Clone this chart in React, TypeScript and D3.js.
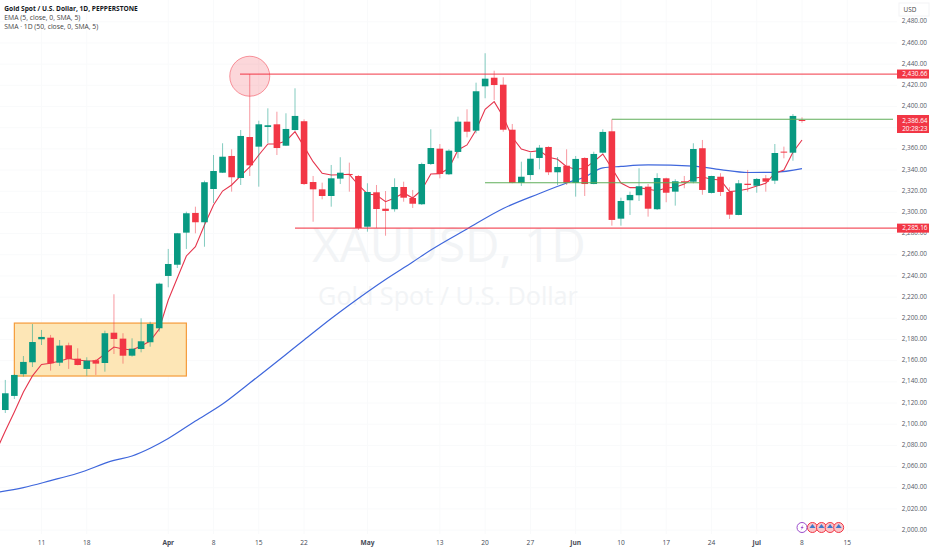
import React from "react";
import * as d3 from "d3";

const opens = [2113.4,2126.7,2147.2,2158.5,2180.2,2181.7,2158.1,2174.5,2161.9,2152.2,2160.4,2157.8,2186.4,2180.8,2164.7,2171.0,2177.4,2190.6,2240.0,2250.6,2280.9,2299.5,2290.7,2322.1,2337.5,2353.3,2332.5,2371.2,2362.1,2380.7,2383.2,2363.0,2377.8,2386.1,2328.7,2321.8,2315.5,2331.9,2336.3,2334.4,2286.5,2319.0,2303.5,2303.0,2324.0,2313.6,2307.7,2345.7,2360.2,2336.0,2357.1,2385.7,2377.2,2419.1,2427.2,2420.6,2378.1,2327.8,2335.3,2351.4,2361.8,2337.9,2344.1,2327.8,2351.4,2326.8,2356.4,2376.6,2294.1,2311.5,2316.2,2324.3,2303.0,2332.2,2319.6,2329.4,2329.0,2360.6,2318.4,2333.7,2319.3,2297.6,2327.1,2325.2,2332.2,2330.0,2357.4,2356.4,2387.3];
const highs = [2141.8,2147.0,2164.4,2194.6,2189.0,2184.3,2179.5,2177.0,2171.7,2163.2,2161.3,2188.3,2222.7,2185.9,2181.1,2200.0,2196.8,2233.6,2265.5,2280.6,2300.7,2305.4,2330.0,2354.2,2365.3,2359.6,2377.8,2430.7,2386.6,2398.3,2395.1,2393.6,2417.2,2387.9,2334.4,2328.1,2344.8,2352.1,2347.0,2335.3,2327.5,2325.9,2320.2,2332.2,2329.0,2321.2,2347.0,2378.5,2364.6,2359.6,2390.4,2397.4,2422.5,2450.3,2433.8,2427.6,2383.5,2347.9,2356.4,2363.7,2362.5,2352.3,2359.6,2353.3,2352.1,2357.3,2378.5,2387.9,2313.9,2319.6,2341.7,2326.8,2337.0,2332.8,2331.3,2334.4,2365.3,2368.4,2334.6,2337.0,2323.7,2330.6,2340.1,2332.5,2335.3,2364.6,2362.1,2392.9,2389.8];
const lows = [2110.6,2123.8,2144.9,2154.0,2174.8,2150.6,2155.0,2152.2,2155.6,2145.8,2146.5,2149.6,2166.3,2157.2,2163.8,2167.9,2173.2,2187.4,2229.3,2247.5,2265.5,2280.3,2267.6,2308.9,2337.2,2319.6,2325.9,2334.4,2324.3,2365.6,2354.2,2362.7,2377.2,2325.9,2291.2,2312.4,2305.4,2326.8,2319.6,2283.4,2281.8,2285.3,2278.0,2300.7,2310.1,2304.2,2307.0,2344.8,2332.2,2335.3,2351.1,2370.9,2374.7,2407.8,2406.2,2376.2,2327.5,2325.0,2330.6,2340.7,2335.3,2325.9,2325.9,2314.9,2315.5,2326.6,2355.8,2287.5,2287.5,2297.6,2310.8,2296.0,2302.3,2309.6,2306.4,2322.8,2327.5,2316.7,2317.9,2315.5,2293.8,2297.3,2319.6,2318.6,2319.6,2326.8,2351.1,2348.8,2384.7];
const closes = [2129.2,2146.5,2158.8,2177.6,2182.4,2157.5,2174.2,2161.6,2155.9,2160.0,2157.2,2185.9,2180.5,2164.7,2171.3,2178.3,2194.6,2232.7,2251.3,2280.3,2299.2,2290.7,2328.5,2339.1,2352.6,2333.2,2372.2,2344.5,2383.2,2382.3,2360.8,2378.8,2391.1,2326.8,2321.8,2315.5,2332.2,2337.5,2335.3,2285.3,2319.3,2303.2,2301.4,2324.0,2313.9,2308.2,2345.7,2360.8,2336.3,2358.3,2385.7,2376.2,2414.4,2426.3,2420.3,2378.1,2327.8,2333.7,2350.7,2361.1,2337.9,2342.9,2327.8,2350.5,2326.8,2355.2,2376.0,2292.9,2310.8,2316.5,2324.7,2303.5,2332.5,2318.6,2329.4,2328.1,2359.9,2321.2,2334.4,2319.3,2297.9,2327.5,2325.9,2331.6,2329.0,2356.1,2356.8,2391.1,2386.3];

const emaStart = -1;
const emaValues = [2074.7,2093.6,2111.6,2130.4,2145.6,2156.4,2157.5,2159.7,2162.1,2160.7,2159.7,2159.7,2166.3,2172.9,2171.0,2170.1,2173.9,2178.6,2189.9,2217.3,2238.1,2258.9,2267.6,2288.1,2307.0,2320.2,2325.9,2334.4,2342.9,2354.2,2364.6,2364.6,2367.5,2376.2,2362.1,2347.9,2337.0,2335.3,2335.6,2336.0,2325.9,2317.4,2316.5,2310.1,2313.6,2318.4,2313.6,2321.2,2336.3,2336.6,2341.7,2359.0,2363.7,2377.8,2397.4,2404.6,2390.4,2370.9,2359.9,2357.3,2358.3,2352.1,2350.2,2343.2,2340.7,2341.7,2347.9,2355.2,2341.7,2327.8,2323.4,2323.4,2321.8,2320.5,2323.1,2323.7,2326.8,2332.2,2333.5,2331.3,2330.6,2319.6,2320.5,2322.1,2325.0,2327.5,2337.0,2340.1,2356.8,2368.4];

const smaIndex = [-1,2,5,8,12,14,16,18,21,24,27,33,36,38,42,45,47,51,55,59,62,64,66,68,71,76,79,82,85,88];
const smaValues = [2035.6,2040.1,2046.7,2053.7,2065.8,2070.0,2077.3,2086.5,2103.0,2119.1,2138.9,2179.5,2199.8,2212.6,2236.7,2253.2,2264.5,2284.4,2303.7,2317.9,2327.8,2333.5,2342.0,2343.4,2344.8,2343.8,2340.4,2337.7,2337.9,2341.3];

const priceTicks = d3.range(2000, 2481, 20);
const hiddenPriceTicks = [2380];
const timeTickIndex = [4,9,18,23,28,33,40,48,53,58,63,68,73,78,83,88,93];
const timeTickLabels = ["11","18","Apr","8","15","22","May","13","20","27","Jun","10","17","24","Jul","8","15"];
const boldTicks = ["Apr","May","Jun","Jul"];
const legendLines = ["EMA (5, close, 0, SMA, 5)","SMA · 1D (50, close, 0, SMA, 5)"];
const resistance = 2430.66, support = 2285.16, last = 2386.64, greenTop = 2388, greenLow = 2328;
const countdown = "20:28:23";
const boxTop = 2195.5, boxBottom = 2145.5;
const eventIndex = [88, 89.15, 90.15, 91.1, 92.05];

const GREEN = "#089981", RED = "#F23645";
const FONT = "'Open Sans', 'Liberation Sans', sans-serif";
const fmt = d3.format(",.2f");

export default function App() {
  const x = d3.scaleLinear().domain([0, 88]).range([5.3, 802]);
  const y = d3.scaleLinear().domain([2000, 2480]).range([530.1, 21.8]);
  const ema = d3.line<number>().x((_, i) => x(i + emaStart)).y(d => y(d));
  const sma = d3.line<number>().x((_, i) => x(smaIndex[i])).y(d => y(d)).curve(d3.curveMonotoneX);
  const bw = 6.6;
  const axisX = 927.5;
  const priceLabel = (v: number, key: string) => (
    <g key={key}>
      <rect x={897} y={y(v) - 4.5} width={32} height={9} fill={RED} />
      <text x={axisX} y={y(v) + 2.3} textAnchor="end" fontSize={6.4} fill="#fff" fontFamily={FONT}>{fmt(v)}</text>
    </g>
  );
  return (
    <svg width={932} height={550} style={{ position: "absolute", left: 0, top: 0, background: "#fff" }}>
      {priceTicks.map(t => <line key={t} x1={0} x2={897} y1={y(t)} y2={y(t)} stroke="#f9fafb" />)}
      {timeTickIndex.map(t => <line key={t} x1={x(t)} x2={x(t)} y1={0} y2={534} stroke="#f9fafb" />)}

      <text x={449} y={262} textAnchor="middle" fontSize={47.5} fill="#f2f4f6" fontFamily={FONT}>XAUUSD, 1D</text>
      <text x={448} y={305} textAnchor="middle" fontSize={25.2} fill="#f2f4f6" fontFamily={FONT}>Gold Spot / U.S. Dollar</text>

      <rect x={x(1)} width={x(20) - x(1)} y={y(boxTop)} height={y(boxBottom) - y(boxTop)} fill="#fde6b6" stroke="#f59b3a" strokeWidth={1.2} />

      <path d={sma(smaValues) ?? ""} fill="none" stroke="#3f67dc" strokeWidth={1.2} />
      <path d={ema(emaValues) ?? ""} fill="none" stroke="#e5354d" strokeWidth={1.1} />

      {opens.map((o, i) => {
        const c = closes[i];
        const col = c >= o ? GREEN : RED;
        const top = y(Math.max(o, c));
        const bot = y(Math.min(o, c));
        return (
          <g key={i}>
            <line x1={x(i)} x2={x(i)} y1={y(highs[i])} y2={y(lows[i])} stroke={col} strokeOpacity={0.5} />
            <rect x={x(i) - bw / 2} y={top} width={bw} height={Math.max(bot - top, 1)} fill={col} />
          </g>
        );
      })}

      <line x1={240} x2={897} y1={y(resistance)} y2={y(resistance)} stroke={RED} strokeOpacity={0.8} strokeWidth={1.2} />
      <line x1={295} x2={897} y1={y(support)} y2={y(support)} stroke={RED} strokeOpacity={0.85} strokeWidth={1.1} />
      <line x1={x(67)} x2={893} y1={y(greenTop)} y2={y(greenTop)} stroke="#5fae5a" strokeWidth={1.1} />
      <line x1={485} x2={700} y1={y(greenLow)} y2={y(greenLow)} stroke="#5fae5a" strokeWidth={1.1} />
      <circle cx={x(27)} cy={y(2428.6)} r={20} fill={RED} fillOpacity={0.2} stroke={RED} strokeOpacity={0.5} />

      {priceTicks.filter(t => !hiddenPriceTicks.includes(t)).map(t => (
        <text key={t} x={axisX - 0.5} y={y(t) + 1.6} textAnchor="end" fontSize={6.4} fill="#555a66" fontFamily={FONT}>{fmt(t)}</text>
      ))}
      <rect x={899} y={3} width={30} height={13} fill="#fff" stroke="#f3f4f6" />
      <text x={910} y={11.5} textAnchor="middle" fontSize={6.4} fill="#444" fontFamily={FONT}>USD</text>

      {priceLabel(resistance, "r")}
      {priceLabel(support, "s")}
      <rect x={897} y={115} width={32} height={18} fill={RED} />
      <text x={axisX} y={122.5} textAnchor="end" fontSize={6.4} fill="#fff" fontFamily={FONT}>{fmt(last)}</text>
      <text x={axisX} y={130.5} textAnchor="end" fontSize={6.4} fill="#fff" fontFamily={FONT}>{countdown}</text>

      {timeTickIndex.map((t, i) => (
        <text key={t} x={x(t)} y={544.5} textAnchor="middle" fontSize={6.6} fontWeight={boldTicks.includes(timeTickLabels[i]) ? 700 : 400} fill="#444955" fontFamily={FONT}>{timeTickLabels[i]}</text>
      ))}

      {eventIndex.slice(1).map(e => (
        <g key={e}>
          <circle cx={x(e)} cy={527.5} r={5} fill="#f9c5c9" stroke={RED} strokeWidth={1} />
          <path d={`M${x(e) - 3},${528} L${x(e)},${524} L${x(e) + 3},${528} Z`} fill="#3f78c9" />
        </g>
      ))}
      <circle cx={x(eventIndex[0])} cy={527.5} r={5} fill="#fff" stroke="#9c4dcc" strokeWidth={1} />
      <path d={`M${x(eventIndex[0]) + 1.5},524.5 L${x(eventIndex[0]) - 1.5},528 L${x(eventIndex[0])},528 L${x(eventIndex[0]) - 1.5},530.5 L${x(eventIndex[0]) + 1.8},527 L${x(eventIndex[0]) + 0.2},527 Z`} fill="#9c4dcc" />

      <text x={4.3} y={10.5} fontSize={6.6} fontWeight={700} fill="#131722" fontFamily={FONT}>Gold Spot / U.S. Dollar, 1D, PEPPERSTONE</text>
      {legendLines.map((l, i) => (
        <text key={l} x={4.3} y={20 + i * 9.4} fontSize={6.8} fill="#444" fontFamily={FONT}>{l}</text>
      ))}
    </svg>
  );
}
